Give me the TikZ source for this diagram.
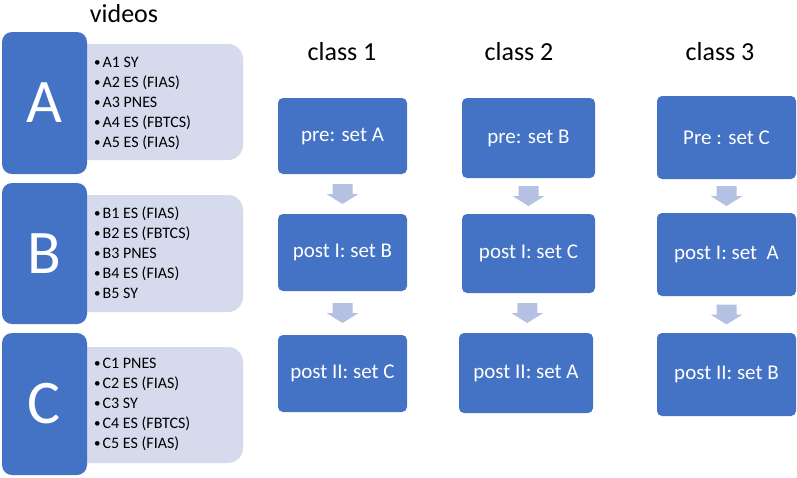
\documentclass[tikz,border=0pt]{standalone}
\usepackage{fontspec}
\setmainfont{Carlito}
\usetikzlibrary{calc}
\definecolor{dblue}{HTML}{4472C4}
\definecolor{lav}{HTML}{D5DAED}
\definecolor{arrc}{HTML}{B4C1E2}
\newcommand\blockarr[1]{\fill[arrc] ($(#1)+(-10,-10)$) -- ($(#1)+(10,-10)$) -- ($(#1)+(10,0)$) -- ($(#1)+(16,0)$) -- ($(#1)+(0,10)$) -- ($(#1)+(-16,0)$) -- ($(#1)+(-10,0)$) -- cycle;}
\newcommand\mybul{\makebox[8.5pt][l]{\raisebox{0.6pt}{\fontsize{13}{13}\selectfont •}}}
\begin{document}
\begin{tikzpicture}[x=1pt,y=-1pt,
 letterbox/.style={fill=dblue, rounded corners=10pt, text=white, font=\fontsize{62}{62}\selectfont, inner sep=0pt, minimum width=85pt},
 listbox/.style={fill=lav, rounded corners=15pt, minimum width=173pt, inner sep=0pt},
 classbox/.style={fill=dblue, rounded corners=5pt, text=white, font=\fontsize{21}{24}\selectfont, inner sep=0pt},
 heading/.style={font=\fontsize{26}{30}\selectfont, anchor=base},
 listtext/.style={font=\fontsize{16}{20}\selectfont, anchor=base west, inner sep=0pt}]
\useasboundingbox (0,0) rectangle (797,477);

% headings
\node[heading] (hv) at (124,22) {videos};
\node[heading] (h1) at (342,60) {class 1};
\node[heading] (h2) at (519,60) {class 2};
\node[heading] (h3) at (720,60) {class 3};

% left: video sets
\node[listbox, minimum height=116pt] (lA) at (156.5,102) {};
\node[listbox, minimum height=117pt] (lB) at (156.5,253.5) {};
\node[listbox, minimum height=116pt] (lC) at (156.5,405) {};
\node[letterbox, minimum height=142pt] (A) at (44.5,103) {A};
\node[letterbox, minimum height=141pt] (B) at (44.5,253.5) {B};
\node[letterbox, minimum height=142pt] (C) at (44.5,404) {C};

\foreach \t [count=\i] in {A1 SY, A2 ES (FIAS), A3 PNES, A4 ES (FBTCS), A5 ES (FIAS)}
  \node[listtext] (ta\i) at (94,47+20*\i) {\mybul\t};
\foreach \t [count=\i] in {B1 ES (FIAS), B2 ES (FBTCS), B3 PNES, B4 ES (FIAS), B5 SY}
  \node[listtext] (tb\i) at (94,198+20*\i) {\mybul\t};
\foreach \t [count=\i] in {C1 PNES, C2 ES (FIAS), C3 SY, C4 ES (FBTCS), C5 ES (FIAS)}
  \node[listtext] (tc\i) at (94,348+20*\i) {\mybul\t};

% class 1
\node[classbox, minimum width=129pt, minimum height=76pt] (p1) at (342.5,136) {pre: set A};
\node[classbox, minimum width=129pt, minimum height=77pt] (q1) at (342.5,252.5) {post I: set B};
\node[classbox, minimum width=129pt, minimum height=77pt] (r1) at (342.5,373.5) {post II: set C};
% class 2
\node[classbox, minimum width=133pt, minimum height=80pt] (p2) at (528.5,138) {pre: set B};
\node[classbox, minimum width=133pt, minimum height=79pt] (q2) at (528.5,253.5) {post I: set C};
\node[classbox, minimum width=134pt, minimum height=80pt] (r2) at (526,373) {post II: set A};
% class 3
\node[classbox, minimum width=139pt, minimum height=83pt] (p3) at (726.5,137.5) {Pre : set C};
\node[classbox, minimum width=139pt, minimum height=83pt] (q3) at (726.5,254.5) {post I: set~~A};
\node[classbox, minimum width=139pt, minimum height=83pt] (r3) at (726.5,374.5) {post II: set B};

% block arrows
\foreach \k in {1,2,3} {
  \coordinate (m\k a) at ($(p\k.south)!0.5!(q\k.north)$);
  \coordinate (m\k b) at ($(q\k.south)!0.5!(r\k.north)$);
  \blockarr{m\k a}
  \blockarr{m\k b}
}
\end{tikzpicture}
\end{document}
